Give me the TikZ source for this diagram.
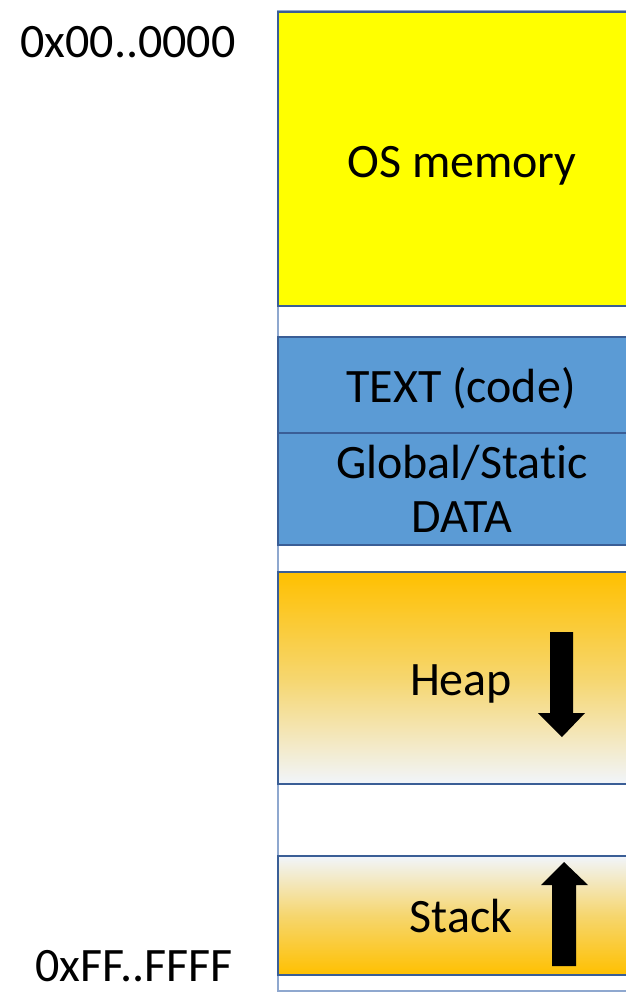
\documentclass[tikz,border=0pt]{standalone}
\usepackage{fontspec}
\setmainfont[Ligatures={NoCommon}]{Carlito}
\begin{document}
\begin{tikzpicture}[x=1pt,y=-1pt,
  segment/.style={draw=segline,line width=1.8pt},
  lbl/.style={anchor=base,font=\fontsize{48}{54}\selectfont,inner sep=0pt},
  growarrow/.style={fill=black,draw=none}]
\definecolor{segline}{HTML}{3A5E96}
\definecolor{outline}{HTML}{8FA8CF}
\definecolor{osyellow}{HTML}{FFFF00}
\definecolor{segblue}{HTML}{5B9BD5}
\definecolor{gold}{HTML}{FFC000}
\definecolor{goldmid}{HTML}{F6D66E}
\definecolor{paleblue}{HTML}{F1F5FB}
\useasboundingbox (0,0) rectangle (626,993);
\clip (0,0) rectangle (626,993);

% whole address space
\draw[draw=outline,line width=1.8pt,fill=white] (278,11) rectangle (660,991);

% memory segments
\draw[segment,fill=osyellow] (278,12) rectangle (646,306);
\draw[segment,fill=segblue] (278,337) rectangle (646,433);
\draw[segment,fill=segblue] (278,433) rectangle (646,545);
\shade[top color=gold,bottom color=paleblue,middle color=goldmid] (278,572) rectangle (646,784);
\draw[segment] (278,572) rectangle (646,784);
\shade[top color=paleblue,bottom color=gold,middle color=goldmid] (278,856) rectangle (646,975);
\draw[segment] (278,856) rectangle (646,975);

% segment labels
\node[lbl] (os) at (462,177) {OS memory};
\node[lbl] (text) at (461,402) {TEXT (code)};
\node[lbl] (glob) at (462,478) {Global/Static};
\node[lbl] (data) at (462,532) {DATA};
\node[lbl] (heap) at (461,695) {Heap};
\node[lbl] (stack) at (461,932) {Stack};

% address labels
\node[lbl] (lo) at (128,57) {0x00..0000};
\node[lbl] (hi) at (134,981) {0xFF..FFFF};

% growth directions
\fill[growarrow] (550,632) -- (573,632) -- (573,713) -- (585,713) -- (562,737)
  -- (538,713) -- (550,713) -- cycle;
\fill[growarrow] (552,966) -- (576,966) -- (576,885) -- (588,885) -- (564,862)
  -- (541,885) -- (552,885) -- cycle;
\end{tikzpicture}
\end{document}
